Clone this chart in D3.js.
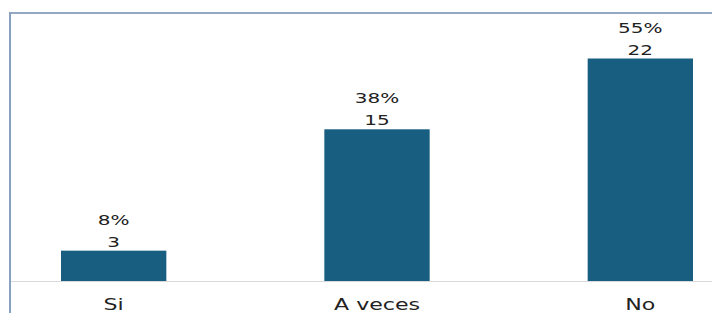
<!DOCTYPE html>
<meta charset="utf-8">
<script src="https://d3js.org/d3.v7.min.js"></script>
<style>
  body { margin: 0; background: #fff; }
  text { font-family: "DejaVu Sans", sans-serif; fill: #222; }
</style>
<body>
<div id="chart"></div>
<script>
var categories = ["Si", "A veces", "No"];
var counts = [3, 15, 22];
var percents = ["8%", "38%", "55%"];

var width = 712, height = 313;
var plotTop = 13, baseline = 281;

var svg = d3.select("#chart").append("svg")
  .attr("width", width)
  .attr("height", height);

// frame (top and left edge of the chart box)
svg.append("line")
  .attr("x1", 10).attr("x2", width)
  .attr("y1", 13).attr("y2", 13)
  .style("stroke", "#93a8c3").style("stroke-width", 2);
svg.append("line")
  .attr("x1", 10).attr("x2", 10)
  .attr("y1", 12).attr("y2", height)
  .style("stroke", "#8aa0bf").style("stroke-width", 2);

// plot is wider than the window, the right part is cut off
var x = d3.scaleBand()
  .domain(categories)
  .range([-18, 772])
  .paddingInner(0.6)
  .paddingOuter(0.3);

var y = d3.scaleLinear()
  .domain([0, 26.5])
  .range([baseline, plotTop]);

var data = categories.map(function(c, i) {
  return { cat: c, n: counts[i], pct: percents[i] };
});

svg.append("line")
  .attr("x1", 11).attr("x2", width)
  .attr("y1", baseline + 0.5).attr("y2", baseline + 0.5)
  .style("stroke", "#d9d9d9");

svg.selectAll(".bar")
  .data(data)
  .enter()
  .append("rect")
    .attr("class", "bar")
    .attr("x", function(d) { return x(d.cat); })
    .attr("y", function(d) { return y(d.n); })
    .attr("width", x.bandwidth())
    .attr("height", function(d) { return baseline - y(d.n); })
    .style("fill", "#175e81");

// text in the picture is stretched sideways
var sx = 1.38;
function stretched(cx, cy) {
  return "translate(" + cx + "," + cy + ") scale(" + sx + ",1)";
}

svg.selectAll(".count")
  .data(data)
  .enter()
  .append("text")
    .attr("class", "count")
    .attr("text-anchor", "middle")
    .attr("transform", function(d) {
      return stretched(x(d.cat) + x.bandwidth() / 2, y(d.n) - 4);
    })
    .style("font-size", "14.5px")
    .text(function(d) { return d.n; });

svg.selectAll(".pct")
  .data(data)
  .enter()
  .append("text")
    .attr("class", "pct")
    .attr("text-anchor", "middle")
    .attr("transform", function(d) {
      return stretched(x(d.cat) + x.bandwidth() / 2, y(d.n) - 26);
    })
    .style("font-size", "14.5px")
    .text(function(d) { return d.pct; });

svg.selectAll(".cat")
  .data(data)
  .enter()
  .append("text")
    .attr("class", "cat")
    .attr("text-anchor", "middle")
    .attr("transform", function(d) {
      return stretched(x(d.cat) + x.bandwidth() / 2, 310);
    })
    .style("font-size", "16px")
    .text(function(d) { return d.cat; });
</script>
</body>
